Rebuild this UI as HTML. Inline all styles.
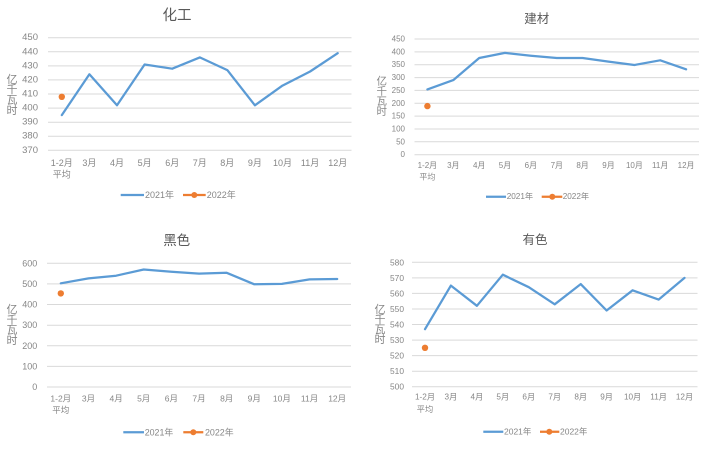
<!DOCTYPE html>
<html><head><meta charset="utf-8"><style>
html,body{margin:0;padding:0;background:#fff;}
svg{display:block;}
text{font-family:"Liberation Sans","Noto Sans CJK SC",sans-serif;}
.t{fill:#595959;text-anchor:middle;dominant-baseline:central;}
.tk{fill:#868686;dominant-baseline:central;}
.g{stroke:#d9d9d9;stroke-width:1;}
.l{fill:none;stroke:#5b9bd5;stroke-width:2.25;stroke-linejoin:round;stroke-linecap:round;}
</style></head><body>
<svg width="709" height="451" viewBox="0 0 709 451" xmlns="http://www.w3.org/2000/svg">
<!-- Chart 1 化工 -->
<text class="t" x="177" y="16" font-size="14.5">化工</text>
<g class="g">
<line x1="48" x2="351.5" y1="37.7" y2="37.7"/><line x1="48" x2="351.5" y1="51.8" y2="51.8"/><line x1="48" x2="351.5" y1="65.9" y2="65.9"/><line x1="48" x2="351.5" y1="79.9" y2="79.9"/><line x1="48" x2="351.5" y1="94" y2="94"/><line x1="48" x2="351.5" y1="108.1" y2="108.1"/><line x1="48" x2="351.5" y1="122.2" y2="122.2"/><line x1="48" x2="351.5" y1="136.2" y2="136.2"/><line x1="48" x2="351.5" y1="150.3" y2="150.3"/>
</g>
<g class="tk" font-size="9.5" text-anchor="end">
<text x="38" y="37.7">450</text><text x="38" y="51.8">440</text><text x="38" y="65.9">430</text><text x="38" y="79.9">420</text><text x="38" y="94">410</text><text x="38" y="108.1">400</text><text x="38" y="122.2">390</text><text x="38" y="136.2">380</text><text x="38" y="150.3">370</text>
</g>
<g class="tk" font-size="11" text-anchor="middle"><text x="12" y="80">亿</text><text x="12" y="90">千</text><text x="12" y="100.5">瓦</text><text x="12" y="111">时</text></g>
<g class="tk" font-size="9" text-anchor="middle">
<text x="61.8" y="163">1-2月</text><text x="61.8" y="174.5">平均</text><text x="89.4" y="163">3月</text><text x="117" y="163">4月</text><text x="144.6" y="163">5月</text><text x="172.2" y="163">6月</text><text x="199.8" y="163">7月</text><text x="227.3" y="163">8月</text><text x="254.9" y="163">9月</text><text x="282.5" y="163">10月</text><text x="310.1" y="163">11月</text><text x="337.7" y="163">12月</text>
</g>
<polyline class="l" points="61.8,115.1 89.4,74.3 117,105.3 144.6,64.5 172.2,68.7 199.8,57.4 227.3,70.1 254.9,105.3 282.5,85.6 310.1,71.5 337.7,53.2"/>
<circle cx="61.8" cy="96.8" r="3.2" fill="#ed7d31"/>
<line x1="120.7" x2="144" y1="195" y2="195" stroke="#5b9bd5" stroke-width="2.25"/>
<text class="tk" x="145" y="195" font-size="9">2021年</text>
<line x1="183" x2="205.7" y1="195" y2="195" stroke="#ed7d31" stroke-width="2.25"/>
<circle cx="194.3" cy="195" r="3" fill="#ed7d31"/>
<text class="tk" x="206.7" y="195" font-size="9">2022年</text>

<!-- Chart 2 建材 -->
<text class="t" x="536.7" y="19" font-size="12.5">建材</text>
<g class="g">
<line x1="414.5" x2="699" y1="39" y2="39"/><line x1="414.5" x2="699" y1="51.9" y2="51.9"/><line x1="414.5" x2="699" y1="64.7" y2="64.7"/><line x1="414.5" x2="699" y1="77.6" y2="77.6"/><line x1="414.5" x2="699" y1="90.4" y2="90.4"/><line x1="414.5" x2="699" y1="103.3" y2="103.3"/><line x1="414.5" x2="699" y1="116.1" y2="116.1"/><line x1="414.5" x2="699" y1="129" y2="129"/><line x1="414.5" x2="699" y1="141.8" y2="141.8"/><line x1="414.5" x2="699" y1="154.7" y2="154.7"/>
</g>
<g class="tk" font-size="8" text-anchor="end">
<text x="405" y="39">450</text><text x="405" y="51.9">400</text><text x="405" y="64.7">350</text><text x="405" y="77.6">300</text><text x="405" y="90.4">250</text><text x="405" y="103.3">200</text><text x="405" y="116.1">150</text><text x="405" y="129">100</text><text x="405" y="141.8">50</text><text x="405" y="154.7">0</text>
</g>
<g class="tk" font-size="10.5" text-anchor="middle"><text x="381.7" y="81.7">亿</text><text x="381.7" y="91.7">千</text><text x="381.7" y="101.7">瓦</text><text x="381.7" y="111.7">时</text></g>
<g class="tk" font-size="8" text-anchor="middle">
<text x="427.4" y="165.5">1-2月</text><text x="427.4" y="177">平均</text><text x="453.3" y="165.5">3月</text><text x="479.2" y="165.5">4月</text><text x="505" y="165.5">5月</text><text x="530.9" y="165.5">6月</text><text x="556.8" y="165.5">7月</text><text x="582.6" y="165.5">8月</text><text x="608.5" y="165.5">9月</text><text x="634.4" y="165.5">10月</text><text x="660.2" y="165.5">11月</text><text x="686.1" y="165.5">12月</text>
</g>
<polyline class="l" points="427.4,89.4 453.3,80.1 479.2,58 505,52.9 530.9,55.7 556.8,58 582.6,58 608.5,61.6 634.4,65 660.2,60.3 686.1,69.3"/>
<circle cx="427.4" cy="106.1" r="3.2" fill="#ed7d31"/>
<line x1="486" x2="506" y1="196.7" y2="196.7" stroke="#5b9bd5" stroke-width="2.25"/>
<text class="tk" x="506.7" y="196.7" font-size="8.2">2021年</text>
<line x1="541.7" x2="562.3" y1="196.7" y2="196.7" stroke="#ed7d31" stroke-width="2.25"/>
<circle cx="552.3" cy="196.7" r="3" fill="#ed7d31"/>
<text class="tk" x="562.7" y="196.7" font-size="8.2">2022年</text>

<!-- Chart 3 黑色 -->
<text class="t" x="176.7" y="240.7" font-size="13.5">黑色</text>
<g class="g">
<line x1="47" x2="351" y1="263.3" y2="263.3"/><line x1="47" x2="351" y1="283.9" y2="283.9"/><line x1="47" x2="351" y1="304.5" y2="304.5"/><line x1="47" x2="351" y1="325.2" y2="325.2"/><line x1="47" x2="351" y1="345.8" y2="345.8"/><line x1="47" x2="351" y1="366.4" y2="366.4"/><line x1="47" x2="351" y1="387" y2="387"/>
</g>
<g class="tk" font-size="9" text-anchor="end">
<text x="37.3" y="263.3">600</text><text x="37.3" y="283.9">500</text><text x="37.3" y="304.5">400</text><text x="37.3" y="325.2">300</text><text x="37.3" y="345.8">200</text><text x="37.3" y="366.4">100</text><text x="37.3" y="387">0</text>
</g>
<g class="tk" font-size="11" text-anchor="middle"><text x="12" y="310">亿</text><text x="12" y="320.3">千</text><text x="12" y="330.7">瓦</text><text x="12" y="341">时</text></g>
<g class="tk" font-size="8.5" text-anchor="middle">
<text x="60.8" y="398.5">1-2月</text><text x="60.8" y="410">平均</text><text x="88.5" y="398.5">3月</text><text x="116.1" y="398.5">4月</text><text x="143.7" y="398.5">5月</text><text x="171.4" y="398.5">6月</text><text x="199" y="398.5">7月</text><text x="226.7" y="398.5">8月</text><text x="254.3" y="398.5">9月</text><text x="281.9" y="398.5">10月</text><text x="309.6" y="398.5">11月</text><text x="337.2" y="398.5">12月</text>
</g>
<polyline class="l" points="60.8,283.3 88.5,278.4 116.1,275.7 143.7,269.5 171.4,271.8 199,273.6 226.7,272.8 254.3,284.3 281.9,283.9 309.6,279.4 337.2,279"/>
<circle cx="60.8" cy="293.4" r="3.2" fill="#ed7d31"/>
<line x1="123.3" x2="144" y1="432.3" y2="432.3" stroke="#5b9bd5" stroke-width="2.25"/>
<text class="tk" x="144.7" y="432.3" font-size="8.9">2021年</text>
<line x1="183.3" x2="203.3" y1="432.3" y2="432.3" stroke="#ed7d31" stroke-width="2.25"/>
<circle cx="193.3" cy="432.3" r="3" fill="#ed7d31"/>
<text class="tk" x="205" y="432.3" font-size="8.9">2022年</text>

<!-- Chart 4 有色 -->
<text class="t" x="535" y="240" font-size="12.5">有色</text>
<g class="g">
<line x1="412" x2="697.5" y1="262.3" y2="262.3"/><line x1="412" x2="697.5" y1="277.9" y2="277.9"/><line x1="412" x2="697.5" y1="293.4" y2="293.4"/><line x1="412" x2="697.5" y1="309" y2="309"/><line x1="412" x2="697.5" y1="324.5" y2="324.5"/><line x1="412" x2="697.5" y1="340.1" y2="340.1"/><line x1="412" x2="697.5" y1="355.6" y2="355.6"/><line x1="412" x2="697.5" y1="371.2" y2="371.2"/><line x1="412" x2="697.5" y1="386.7" y2="386.7"/>
</g>
<g class="tk" font-size="8.4" text-anchor="end">
<text x="404" y="262.3">580</text><text x="404" y="277.9">570</text><text x="404" y="293.4">560</text><text x="404" y="309">550</text><text x="404" y="324.5">540</text><text x="404" y="340.1">530</text><text x="404" y="355.6">520</text><text x="404" y="371.2">510</text><text x="404" y="386.7">500</text>
</g>
<g class="tk" font-size="11" text-anchor="middle"><text x="380" y="310">亿</text><text x="380" y="320">千</text><text x="380" y="330">瓦</text><text x="380" y="340">时</text></g>
<g class="tk" font-size="8.2" text-anchor="middle">
<text x="425" y="397">1-2月</text><text x="425" y="409.3">平均</text><text x="450.9" y="397">3月</text><text x="476.9" y="397">4月</text><text x="502.8" y="397">5月</text><text x="528.8" y="397">6月</text><text x="554.7" y="397">7月</text><text x="580.7" y="397">8月</text><text x="606.6" y="397">9月</text><text x="632.6" y="397">10月</text><text x="658.6" y="397">11月</text><text x="684.5" y="397">12月</text>
</g>
<polyline class="l" points="425,329.2 450.9,285.6 476.9,305.8 502.8,274.7 528.8,287.2 554.7,304.3 580.7,284.1 606.6,310.5 632.6,290.3 658.6,299.6 684.5,277.9"/>
<circle cx="425" cy="347.8" r="3.2" fill="#ed7d31"/>
<line x1="483.3" x2="503.3" y1="431.7" y2="431.7" stroke="#5b9bd5" stroke-width="2.25"/>
<text class="tk" x="504" y="431.7" font-size="8.5">2021年</text>
<line x1="540" x2="559.3" y1="431.7" y2="431.7" stroke="#ed7d31" stroke-width="2.25"/>
<circle cx="549.3" cy="431.7" r="3" fill="#ed7d31"/>
<text class="tk" x="560" y="431.7" font-size="8.5">2022年</text>
</svg>
</body></html>
